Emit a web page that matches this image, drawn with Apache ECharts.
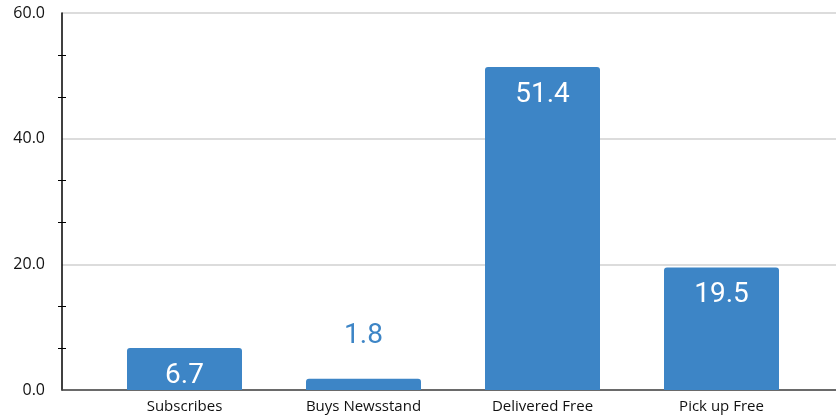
<!DOCTYPE html>
<html>
<head>
<meta charset="utf-8">
<script src="https://cdn.jsdelivr.net/npm/echarts@6/dist/echarts.min.js"></script>
<style>
  html, body { margin: 0; padding: 0; background: #fff; }
  #chart { width: 836px; height: 416px; }
</style>
</head>
<body>
<div id="chart"></div>
<script>
// data
const categories = ["Subscribes", "Buys Newsstand", "Delivered Free", "Pick up Free"];
const values = [6.7, 1.8, 51.4, 19.5];
const yMin = 0;
const yMax = 60;
const yStep = 20;

const barColor = "#3d85c6";
const font = "'Open Sans', 'Noto Sans', sans-serif";

const chart = echarts.init(document.getElementById("chart"));

// the value of a bar is written inside it, unless the bar is too short
const barData = values.map(v => {
  if (v < 5) {
    return {
      value: v,
      label: { position: "top", distance: 29, color: barColor }
    };
  }
  return { value: v };
});

const yCommon = {
  type: "value",
  position: "left",
  min: yMin,
  max: yMax,
  interval: yStep,
  axisTick: { show: false },
  minorTick: { show: false },
  axisLine: { show: false },
  axisLabel: { show: false },
  splitLine: { show: false }
};

const option = {
  animation: false,
  grid: [
    // the frame: axis lines and grid lines span the whole width
    { left: 62, right: 0, top: 13, bottom: 26 },
    // the bars sit in a narrower band
    { left: 95, right: 25, top: 13, bottom: 26 }
  ],
  xAxis: [
    {
      gridIndex: 0,
      type: "value",
      min: 0,
      max: 1,
      axisLine: { show: true, onZero: false, lineStyle: { color: "#444", width: 1.5 } },
      axisTick: { show: false },
      axisLabel: { show: false },
      splitLine: { show: false }
    },
    {
      gridIndex: 1,
      type: "category",
      data: categories,
      axisLine: { show: false },
      axisTick: { show: false },
      axisLabel: { color: "#111", fontSize: 15, fontFamily: font, margin: 9 }
    }
  ],
  yAxis: [
    Object.assign({}, yCommon, {
      gridIndex: 0,
      axisLine: { show: true, lineStyle: { color: "#000", width: 1.5 } },
      axisLabel: {
        color: "#111",
        fontSize: 16,
        fontFamily: font,
        margin: 17,
        formatter: v => v.toFixed(1)
      },
      splitLine: { show: true, lineStyle: { color: "#d0d0d0", width: 1.5 } }
    }),
    // shifted copy whose minor ticks straddle the axis line
    Object.assign({}, yCommon, {
      gridIndex: 0,
      offset: -4,
      minorTick: { show: true, splitNumber: 3, length: 8, lineStyle: { color: "#000", width: 1 } }
    }),
    Object.assign({}, yCommon, { gridIndex: 1 })
  ],
  series: [
    {
      type: "bar",
      xAxisIndex: 1,
      yAxisIndex: 2,
      data: barData,
      barWidth: 115,
      itemStyle: { color: barColor, borderRadius: [3, 3, 0, 0] },
      label: {
        show: true,
        position: "insideTop",
        distance: 14,
        color: "#fff",
        fontSize: 28,
        fontFamily: "Roboto, sans-serif",
        formatter: p => p.value.toFixed(1)
      }
    }
  ]
};

chart.setOption(option);
</script>
</body>
</html>
